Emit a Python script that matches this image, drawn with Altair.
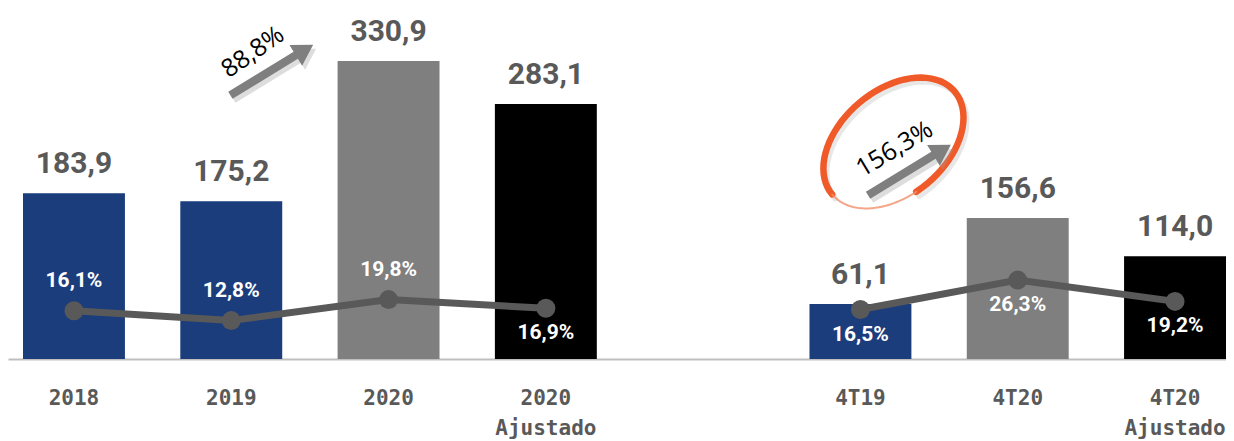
import altair as alt
import numpy as np
import pandas as pd

# ---- data ----
categories = ["2018", "2019", "2020", "2020 Ajustado", "4T19", "4T20", "4T20 Ajustado"]
ebitda = [183.9, 175.2, 330.9, 283.1, 61.1, 156.6, 114.0]
margins = [16.1, 12.8, 19.8, 16.9, 16.5, 26.3, 19.2]
groups = ["Ano", "Ano", "Ano", "Ano", "Trimestre", "Trimestre", "Trimestre"]
kinds = ["base", "base", "atual", "ajustado", "base", "atual", "ajustado"]
growth_labels = ["88,8%", "156,3%"]
x_domain = ["2018", "2019", "2020", "2020 Ajustado", " ", "4T19", "4T20", "4T20 Ajustado"]
above_cats = ["2018", "2019", "2020"]


def br(v, suffix=""):
    return f"{v:.1f}".replace(".", ",") + suffix


df = pd.DataFrame({
    "cat": categories,
    "ebitda": ebitda,
    "margin": margins,
    "group": groups,
    "kind": kinds,
    "vlabel": [br(v) for v in ebitda],
    "mlabel": [br(v, "%") for v in margins],
})

GRAY_TXT = "#595959"
x_scale = alt.Scale(domain=x_domain, paddingInner=0.352, paddingOuter=0.0477, align=1)
x_axis = alt.Axis(title=None, labelExpr="split(datum.label, ' ')", labelFont="DejaVu Sans Mono",
                  labelFontWeight="bold", labelFontSize=21, labelColor=GRAY_TXT, labelPadding=28,
                  labelLineHeight=30, ticks=False, domainColor="#BFBFBF", domainWidth=2,
                  labelOverlap=False, labelAngle=0, grid=False)
X = alt.X("cat:N", scale=x_scale, axis=x_axis)
y_scale = alt.Scale(domain=[0, 389.7], nice=False, zero=True)
Y = alt.Y("ebitda:Q", scale=y_scale, axis=None)
m_scale = alt.Scale(domain=[0, 117], nice=False, zero=True)
M = alt.Y("margin:Q", scale=m_scale, axis=None)

base = alt.Chart(df)

bars = base.mark_bar().encode(
    x=X, y=Y,
    color=alt.Color("kind:N", scale=alt.Scale(domain=["base", "atual", "ajustado"],
                                              range=["#1B3D7B", "#7F7F7F", "#000000"]), legend=None),
)
vlabels = base.mark_text(font="Roboto", fontWeight="bold", fontSize=30, color=GRAY_TXT,
                         baseline="alphabetic", dy=-20).encode(x=X, y=Y, text="vlabel:N")

line = base.mark_line(color=GRAY_TXT, strokeWidth=7).encode(x=X, y=M, detail="group:N")
pts = base.mark_point(filled=True, size=361, color=GRAY_TXT, opacity=1).encode(x=X, y=M)
mlab_above = base.transform_filter(alt.FieldOneOfPredicate(field="cat", oneOf=above_cats)).mark_text(
    font="Roboto", fontWeight="bold", fontSize=21, color="white", baseline="middle", dy=-30
).encode(x=X, y=M, text="mlabel:N")
mlab_below = base.transform_filter(~alt.FieldOneOfPredicate(field="cat", oneOf=above_cats)).mark_text(
    font="Roboto", fontWeight="bold", fontSize=21, color="white", baseline="middle", dy=25
).encode(x=X, y=M, text="mlabel:N")

# ---- annotations ----
ann = alt.Chart(pd.DataFrame({"label": growth_labels, "anchor": ["2019", "4T19"]}))
arrow_path = "M-1,-0.085 L0.58,-0.085 L0.58,-0.25 L1,0 L0.58,0.25 L0.58,0.085 L-1,0.085 Z"


def arc_path(t0, t1, ratio=0.66, steps=60):
    t = np.radians(np.linspace(t0, t1, steps))
    pts_ = [f"{np.cos(a):.4f},{ratio * np.sin(a):.4f}" for a in t]
    return "M" + " L".join(pts_)


thick_path = arc_path(180, 460)
thin_path = arc_path(100, 180)


def XD(cat):
    return alt.XDatum(cat, type="nominal", scale=x_scale, axis=x_axis)


def YD(v):
    return alt.YDatum(v, type="quantitative", scale=y_scale, axis=None)


def arrow(cat, yv, dx, ang, color, opacity=1.0, ox=0, oy=0):
    return ann.transform_filter(alt.datum.anchor == cat).mark_point(
        shape=arrow_path, size=9409, angle=ang, filled=True, color=color, opacity=opacity,
        strokeWidth=0, xOffset=dx + ox, yOffset=oy
    ).encode(x=XD(cat), y=YD(yv))


def ell(path, color, width, opacity, ox=0, oy=0):
    return ann.transform_filter(alt.datum.anchor == "4T19").mark_point(
        shape=path, size=25600, angle=320, filled=False, color=color, strokeWidth=width,
        opacity=opacity, xOffset=33 + ox, yOffset=oy, strokeCap="round"
    ).encode(x=XD("4T19"), y=YD(239.8))


arrow1_sh = arrow("2019", 320.9, 40.5, 328.6, "#9E9E9E", 0.35, 3, 4)
arrow1 = arrow("2019", 320.9, 40.5, 328.6, "#7F7F7F")
arrow2_sh = arrow("4T19", 209.9, 49, 328.6, "#9E9E9E", 0.35, 3, 4)
arrow2 = arrow("4T19", 209.9, 49, 328.6, "#7F7F7F")

ellipse_sh = ell(thick_path, "#BBBBBB", 6, 0.35, 3, 4)
ellipse = ell(thick_path, "#EF5A28", 6.5, 1)
ellipse_thin = ell(thin_path, "#F3906C", 2, 0.8)

txt1 = ann.transform_filter(alt.datum.anchor == "2019").mark_text(
    font="Open Sans", fontSize=25, color="black", angle=325, baseline="middle", xOffset=21.5
).encode(x=XD("2019"), y=YD(340.9), text="label:N")
txt2 = ann.transform_filter(alt.datum.anchor == "4T19").mark_text(
    font="Open Sans", fontSize=25, color="black", angle=329, baseline="middle", xOffset=34
).encode(x=XD("4T19"), y=YD(233.2), text="label:N")

chart = alt.layer(
    bars, vlabels, line, pts, mlab_above, mlab_below,
    ellipse_sh, ellipse, ellipse_thin, arrow1_sh, arrow1, arrow2_sh, arrow2, txt1, txt2
).resolve_scale(y="independent").properties(
    width=1218, height=351,
    autosize=alt.AutoSizeParams(type="none"),
    padding={"top": 0, "left": 0, "right": 0, "bottom": 95},
).configure_view(stroke=None)

chart.save("out.html", embed_options={"renderer": "svg", "actions": False})
